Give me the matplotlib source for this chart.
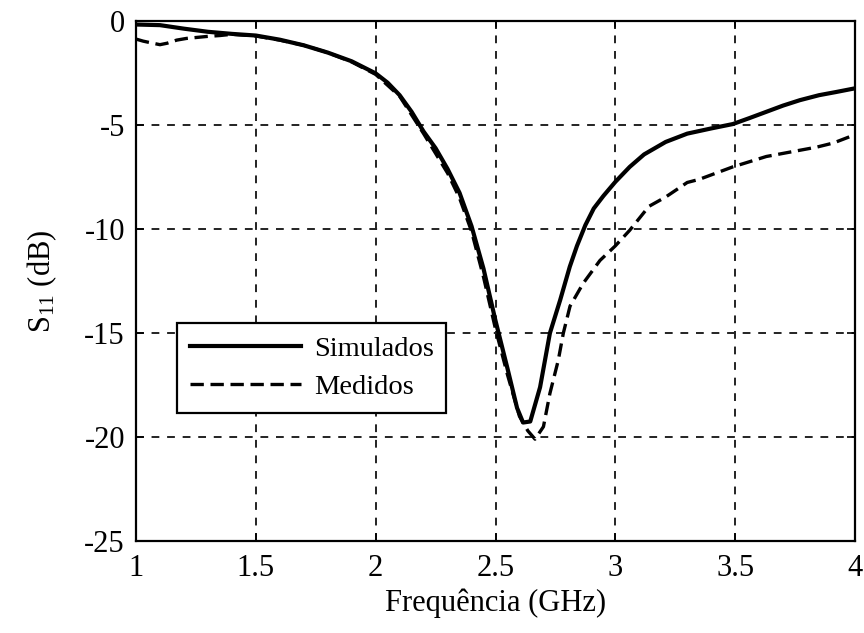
import matplotlib
matplotlib.use("Agg")
import matplotlib.pyplot as plt

# Simulated S11 (GHz, dB)
sim_freq = [1.00, 1.10, 1.20, 1.30, 1.40, 1.50, 1.60, 1.70, 1.80, 1.90, 2.00, 2.05,
            2.10, 2.15, 2.20, 2.25, 2.30, 2.35, 2.40, 2.45, 2.50, 2.55, 2.59, 2.615,
            2.645, 2.686, 2.727, 2.77, 2.81, 2.84, 2.875, 2.91, 2.95, 3.00, 3.06, 3.12,
            3.21, 3.30, 3.40, 3.49, 3.56, 3.63, 3.70, 3.77, 3.85, 3.92, 4.00]
sim_db = [-0.15, -0.18, -0.35, -0.50, -0.60, -0.68, -0.88, -1.15, -1.50, -1.92, -2.50, -2.95,
          -3.55, -4.35, -5.30, -6.10, -7.10, -8.25, -9.85, -11.90, -14.40, -16.70, -18.60, -19.30,
          -19.25, -17.60, -15.00, -13.40, -11.80, -10.80, -9.80, -9.00, -8.40, -7.72, -7.00, -6.40,
          -5.80, -5.40, -5.15, -4.94, -4.65, -4.35, -4.05, -3.79, -3.55, -3.40, -3.22]

# Measured S11 (GHz, dB)
meas_freq = [1.00, 1.03, 1.07, 1.10, 1.13, 1.17, 1.21, 1.30, 1.35, 1.40, 1.50, 1.60,
             1.70, 1.80, 1.90, 2.00, 2.10, 2.20, 2.30, 2.35, 2.40, 2.45, 2.50, 2.55,
             2.60, 2.635, 2.665, 2.70, 2.727, 2.762, 2.783, 2.811, 2.866, 2.936, 3.00,
             3.06, 3.14, 3.21, 3.30, 3.35, 3.42, 3.49, 3.56, 3.63, 3.70, 3.77, 3.84,
             3.91, 4.00]
meas_db = [-0.85, -0.95, -1.05, -1.12, -1.05, -0.90, -0.82, -0.72, -0.68, -0.62, -0.70, -0.90,
           -1.15, -1.50, -1.95, -2.55, -3.60, -5.40, -7.30, -8.50, -10.10, -12.30, -14.80, -17.00,
           -19.00, -19.70, -20.10, -19.50, -17.90, -16.30, -15.00, -13.70, -12.60, -11.50, -10.80,
           -10.05, -8.90, -8.45, -7.75, -7.60, -7.30, -7.00, -6.75, -6.50, -6.35, -6.20, -6.05,
           -5.85, -5.45]

x_ticks = [1, 1.5, 2, 2.5, 3, 3.5, 4]
x_tick_labels = ["1", "1.5", "2", "2.5", "3", "3.5", "4"]
y_ticks = [-25, -20, -15, -10, -5, 0]
y_tick_labels = ["-25", "-20", "-15", "-10", "-5", "0"]

plt.rcParams['font.family'] = ['Liberation Serif', 'DejaVu Serif']
plt.rcParams['mathtext.fontset'] = 'custom'
plt.rcParams['mathtext.rm'] = 'Liberation Serif'
plt.rcParams['mathtext.it'] = 'Liberation Serif:italic'

fig = plt.figure(figsize=(8.64, 6.33), dpi=100)
ax = fig.add_axes([136/864, 1 - 541/633, (855 - 136)/864, (541 - 21.4)/633])

ax.plot(sim_freq, sim_db, color='black', lw=3.0, ls='-', label='Simulados')
ax.plot(meas_freq, meas_db, color='black', lw=2.4, ls=(0, (4, 2)), label='Medidos')

ax.set_xlim(1, 4)
ax.set_ylim(-25, 0)
ax.set_xticks(x_ticks)
ax.set_xticklabels(x_tick_labels)
ax.set_yticks(y_ticks)
ax.set_yticklabels(y_tick_labels)
ax.tick_params(direction='in', top=True, right=True, labelsize=22, length=6, width=1.2)
ax.tick_params(axis='x', pad=9)
ax.tick_params(axis='y', pad=8)
ax.grid(True, color='#222222', ls=(0, (4, 4)), lw=1.4)
for s in ax.spines.values():
    s.set_linewidth(1.6)
    s.set_color('black')

ax.set_xlabel('Frequência (GHz)', fontsize=22, labelpad=4)
ax.set_ylabel(r'S$_{11}$ (dB)', fontsize=22, labelpad=18)

leg = ax.legend(loc='lower left', bbox_to_anchor=(0.057, 0.246), borderaxespad=0,
                fontsize=20.5, fancybox=False, framealpha=1, edgecolor='black',
                handlelength=3.9, handletextpad=0.45, borderpad=0.45, labelspacing=0.45)
leg.get_frame().set_linewidth(1.6)

fig.savefig('out.png', dpi=100)
